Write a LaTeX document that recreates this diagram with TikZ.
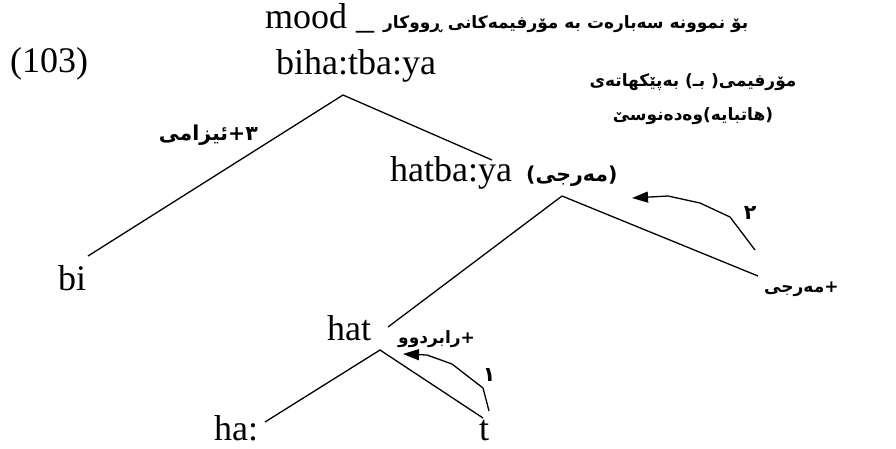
\documentclass[tikz,border=0pt]{standalone}
\usepackage{fontspec}
\usetikzlibrary{arrows.meta}
\setmainfont{Liberation Serif}
\newfontfamily\ku[Script=Arabic]{DejaVu Sans}
\TeXXeTstate=1
\newcommand\kw[1]{\mbox{#1}}
\begin{document}
\begin{tikzpicture}[x=1pt,y=-1pt,
  lat/.style={font=\fontsize{36}{40}\selectfont, inner sep=0pt},
  kur/.style={font=\ku\bfseries\fontsize{17}{20}\selectfont, inner sep=0pt},
  kurbig/.style={font=\ku\bfseries\fontsize{20.5}{23}\selectfont, inner sep=0pt},
  tree/.style={line width=1.3pt},
  arr/.style={line width=1.3pt, -{Triangle[length=16pt,width=11pt]}}]
\useasboundingbox (0,0) rectangle (896,448);
% header
\node[lat, anchor=base west] (head) at (265,28)
  {mood \_\ {\ku\bfseries\fontsize{17}{20}\selectfont\beginR بۆ نموونە سەبارەت بە مۆرفیمەکانی ڕووکار\endR}};
\node[lat, anchor=base west] (num) at (10,72) {(103)};
\node[lat, anchor=base west] (top) at (276,74) {biha:tba:ya};
\node[kur, anchor=base] (r1) at (693,86) {\beginR مۆرفیمی( بـ) بەپێکهاتەی\endR};
\node[kur, anchor=base] (r2) at (693,120) {\beginR (هاتبایە)وەدەنوسێ\endR};
\node[kurbig, anchor=base east] (l3) at (258,140) {\kw{ئیزامی}\kw{+}\kw{٣}};
\node[lat, anchor=base west] (hb) at (390,181) {hatba:ya};
\node[kurbig, anchor=base west] (mrj) at (526,181) {(مەرجی)};
\node[lat, anchor=base west] (bi) at (58,290) {bi};
\node[kur, anchor=base west] (mrj2) at (764,292) {\kw{مەرجی}\kw{+}};
\node[lat, anchor=base west] (hat) at (327,340) {hat};
\node[kur, anchor=base west] (rab) at (398,343) {\kw{رابردوو}\kw{+}};
\node[lat, anchor=base west] (ha) at (214,440) {ha:};
\node[lat, anchor=base west] (t) at (479,440) {t};
\node[kurbig] (n1) at (489,375) {١};
\node[kurbig] (n2) at (750,213) {٢};
% tree
\coordinate (apA) at (343,95);
\coordinate (eBi) at (88,256);
\coordinate (eHb) at (492,160);
\coordinate (apB) at (562,196);
\coordinate (eHat) at (388,327);
\coordinate (eMr) at (758,276);
\coordinate (apC) at (380,350);
\coordinate (eHa) at (265,422);
\coordinate (eT) at (483,418);
\draw[tree] (eBi) -- (apA) -- (eHb);
\draw[tree] (eHat) -- (apB) -- (eMr);
\draw[tree] (eHa) -- (apC) -- (eT);
% arrows
\coordinate (a1s) at (489,411);
\coordinate (a1e) at (403,354);
\draw[arr] (a1s) -- (483,388) -- (452,364) -- (427,355) -- (a1e);
\coordinate (a2s) at (755,250);
\coordinate (a2e) at (632,198);
\draw[arr] (a2s) -- (730,217) -- (700,203) -- (668,196) -- (a2e);
\end{tikzpicture}
\end{document}
